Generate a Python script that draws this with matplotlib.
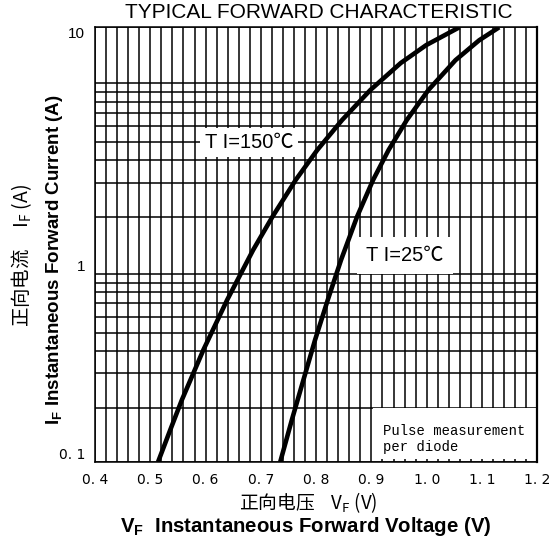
import matplotlib
matplotlib.use('Agg')
import numpy as np
from matplotlib import pyplot as plt
from matplotlib.patches import Rectangle

plt.rcParams['mathtext.fontset'] = 'custom'
plt.rcParams['mathtext.rm'] = 'Liberation Sans'
plt.rcParams['mathtext.bf'] = 'Liberation Sans:bold'

# Калибровка сетки по оси Y (значения линий сетки и их доля высоты осей)
grid_vals = [0.1, 0.2, 0.3, 0.4, 0.5, 0.6, 0.7, 0.8, 0.9, 1.0,
             1.5, 2, 3, 4, 5, 6, 7, 8, 9, 10]
grid_pos = [0.0, 0.1235, 0.2040, 0.2560, 0.2961, 0.3343, 0.3651, 0.3904, 0.4125, 0.4325,
            0.5643, 0.6425, 0.6947, 0.7368, 0.7736, 0.8035, 0.8288, 0.8518, 0.8712, 1.0]

# Кривые: VF [V] и IF [A]
vf_150 = [0.514, 0.536, 0.557, 0.596, 0.639, 0.686, 0.721, 0.763, 0.802, 0.847,
          0.898, 0.953, 0.999, 1.059]
if_150 = [0.100, 0.151, 0.220, 0.404, 0.729, 1.185, 1.50, 2.10, 3.51, 5.42,
          8.19, 9.35, 9.67, 10.0]
vf_25 = [0.735, 0.756, 0.777, 0.798, 0.821, 0.845, 0.874, 0.903, 0.931, 0.964,
         1.003, 1.052, 1.095, 1.131]
if_25 = [0.100, 0.172, 0.278, 0.459, 0.729, 1.104, 1.50, 2.10, 3.51, 5.42,
         8.19, 9.40, 9.76, 10.0]

x_ticks = [0.4, 0.5, 0.6, 0.7, 0.8, 0.9, 1.0, 1.1, 1.2]
x_labels = ['0. 4', '0. 5', '0. 6', '0. 7', '0. 8', '0. 9', '1. 0', '1. 1', '1. 2']
y_ticks = [0.1, 1, 10]
y_labels = ['0. 1', '1', '10']

LOGV = np.log10(grid_vals)
POS = np.array(grid_pos)


def fwd(v):
    v = np.clip(np.asarray(v, dtype=float), 1e-9, None)
    return np.interp(np.log10(v), LOGV, POS)


def inv(p):
    return 10 ** np.interp(np.asarray(p, dtype=float), POS, LOGV)


fig = plt.figure(figsize=(5.51, 5.44), dpi=100)
ax = fig.add_axes([95 / 551, 1 - 462 / 544, (537.3 - 95) / 551, (462 - 27.3) / 544])
ax.set_yscale('function', functions=(fwd, inv))
ax.set_xlim(0.4, 1.2)
ax.set_ylim(0.1, 10)

ax.set_xticks(x_ticks, labels=x_labels)
ax.set_xticks(np.arange(0.42, 1.19, 0.02), minor=True)
ax.set_yticks(y_ticks, labels=y_labels)
ax.set_yticks(grid_vals[1:-1], minor=True)
ax.yaxis.set_minor_formatter(plt.NullFormatter())
ax.tick_params(which='both', length=0)
ax.tick_params(axis='x', pad=8, labelsize=10)
ax.tick_params(axis='y', pad=7, labelsize=10)
for lab, va in zip(ax.get_yticklabels(), ['bottom', 'bottom', 'top']):
    lab.set_va(va)
    if lab.get_text() != '0. 1':
        lab.set_family('Liberation Sans')
        lab.set_fontsize(11)

ax.set_axisbelow(True)
ax.grid(True, which='both', color='black', linewidth=1.1)
for s in ax.spines.values():
    s.set_linewidth(1.1)
ax.spines['right'].set_linewidth(1.6)

ax.plot(vf_150, if_150, color='black', linewidth=3.3, solid_capstyle='butt',
        solid_joinstyle='round', zorder=3)
ax.plot(vf_25, if_25, color='black', linewidth=3.3, solid_capstyle='butt',
        solid_joinstyle='round', zorder=3)

lab_font = ['Liberation Sans', 'Noto Sans CJK SC']
ax.text(0.348, 0.734, 'T I=150℃', transform=ax.transAxes, ha='center', va='center',
        fontsize=14.5, family=lab_font, zorder=4,
        bbox=dict(boxstyle='square,pad=0.25', facecolor='white', edgecolor='none'))
ax.text(0.701, 0.476, 'T I=25℃', transform=ax.transAxes, ha='center', va='center',
        fontsize=14.5, family=lab_font, zorder=4,
        bbox=dict(boxstyle='square,pad=0.45', facecolor='white', edgecolor='none'))

# Белая плашка с примечанием
ax.add_patch(Rectangle((0.6285, 0.007), 0.3715, 0.1165, transform=ax.transAxes,
                       facecolor='white', edgecolor='none', zorder=1))
ax.text(0.652, 0.052, 'Pulse measurement\nper diode', transform=ax.transAxes,
        ha='left', va='center', fontsize=10, family='Liberation Mono',
        linespacing=1.2, zorder=4)

fig.text(319 / 551, 1 - 13 / 544, 'TYPICAL FORWARD CHARACTERISTIC', ha='center', va='center',
         fontsize=15, family='Liberation Sans')

ax.set_ylabel(r'I$_\mathbf{F}$ Instantaneous Forward Current (A)', fontsize=13.5,
              fontweight='bold', family='Liberation Sans')
ax.yaxis.set_label_coords(-0.068, 0.465)
fig.text(22 / 551, 1 - 255 / 544, '正向电流     I$_\\mathregular{F}$ (A)', rotation=90,
         ha='center', va='center', fontsize=14, family=['Noto Sans CJK SC', 'DejaVu Sans'])

fig.text(308 / 551, 1 - 503 / 544, '正向电压    V$_\\mathregular{F}$ (V)',
         ha='center', va='center', fontsize=13.5, family=['Noto Sans CJK SC', 'DejaVu Sans'])
fig.text(305.5 / 551, 1 - 527 / 544, r'V$_\mathbf{F}$  Instantaneous Forward Voltage (V)',
         ha='center', va='center', fontsize=14.7, fontweight='bold', family='Liberation Sans')

fig.savefig('out.png', dpi=100)
